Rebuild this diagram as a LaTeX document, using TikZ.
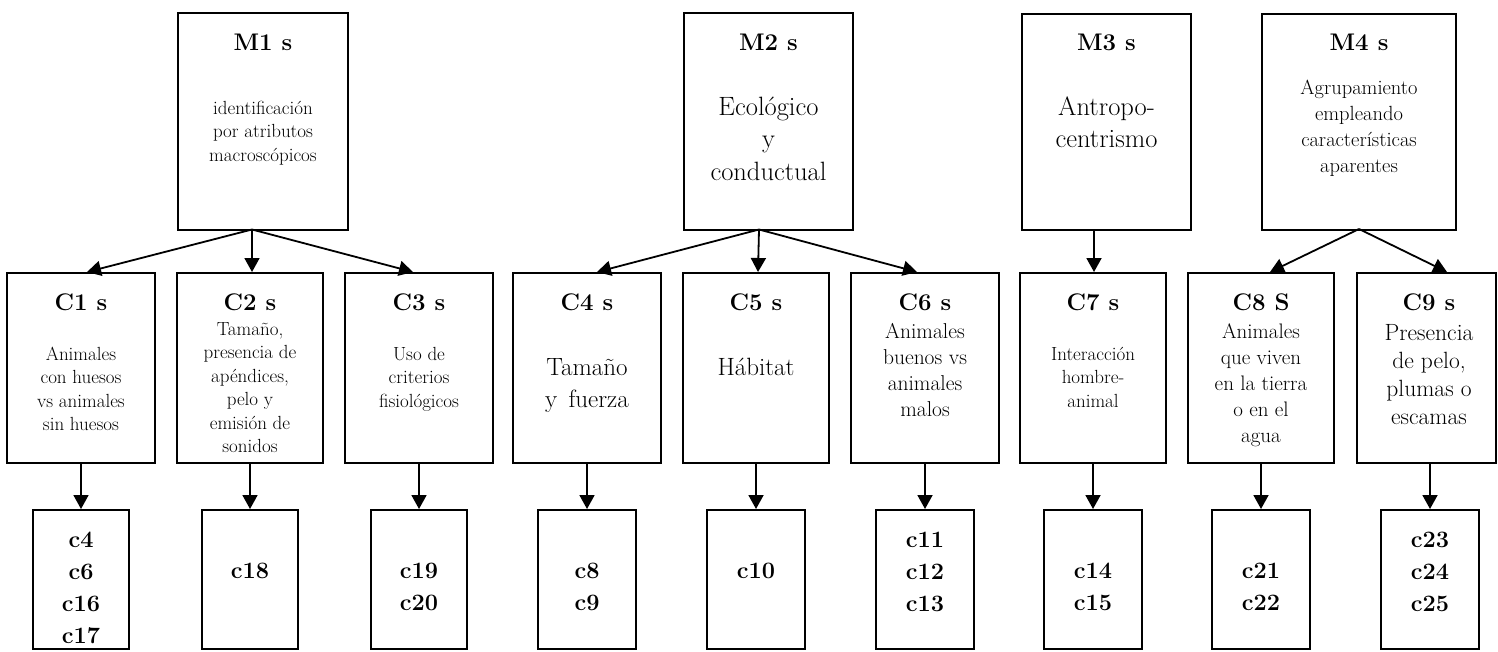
\documentclass[tikz,border=0pt]{standalone}
\usetikzlibrary{arrows.meta,calc}
% strut that fixes the height of the first line of every text block
\newcommand{\lnstrut}{\rule{0pt}{0.75em}}
\begin{document}
\begin{tikzpicture}[x=1pt,y=-1pt,
  box/.style={draw, line width=2pt, rectangle, inner sep=0pt},
  mbox/.style={box, minimum height=217pt},
  cbox/.style={box, minimum height=190pt},
  bbox/.style={box, minimum height=139pt},
  arr/.style={line width=1.8pt, -{Triangle[width=15pt,length=14pt]}},
  ttl/.style={anchor=base, inner sep=0pt, font=\bfseries\fontsize{24}{28}\selectfont},
  txt/.style={anchor=north, inner sep=0pt, align=center},
  num/.style={txt, font=\bfseries\fontsize{23.5}{32}\selectfont}]
\useasboundingbox (0,0) rectangle (1498,651);

% ---- top level
\node[mbox, minimum width=170pt] (M1) at (263,121.5) {};
\node[mbox, minimum width=169pt] (M2) at (768.5,121.5) {};
\node[mbox, minimum width=169pt, minimum height=216pt] (M3) at (1106.5,122) {};
\node[mbox, minimum width=194pt, minimum height=216pt] (M4) at (1359,122) {};

\node[ttl] (M1t) at (263,50) {M1 s};
\node[ttl] (M2t) at (768.5,50) {M2 s};
\node[ttl] (M3t) at (1106.5,50) {M3 s};
\node[ttl] (M4t) at (1359,50) {M4 s};

\node[txt, font=\fontsize{19}{23.5}\selectfont] (M1b) at (263,99.75)
  {\lnstrut identificación\\por atributos\\macroscópicos};
\node[txt, font=\fontsize{26.5}{32.5}\selectfont] (M2b) at (768.5,95.1)
  {\lnstrut Ecológico\\y\\conductual};
\node[txt, font=\fontsize{26.5}{32}\selectfont] (M3b) at (1106.5,95.1)
  {\lnstrut Antropo-\\centrismo};
\node[txt, font=\fontsize{20.5}{26}\selectfont] (M4b) at (1359,78.6)
  {\lnstrut Agrupamiento\\empleando\\características\\aparentes};

% ---- middle level
\node[cbox, minimum width=148pt] (C1) at (81,368) {};
\node[cbox, minimum width=146pt] (C2) at (250,368) {};
\node[cbox, minimum width=148pt] (C3) at (419,368) {};
\node[cbox, minimum width=148pt] (C4) at (587,368) {};
\node[cbox, minimum width=146pt] (C5) at (756,368) {};
\node[cbox, minimum width=148pt] (C6) at (925,368) {};
\node[cbox, minimum width=146pt] (C7) at (1093,368) {};
\node[cbox, minimum width=146pt] (C8) at (1261,368) {};
\node[cbox, minimum width=139pt] (C9) at (1426.5,368) {};

\node[ttl] (C1t) at (81,310) {C1 s};
\node[ttl] (C2t) at (250,310) {C2 s};
\node[ttl] (C3t) at (419,310) {C3 s};
\node[ttl] (C4t) at (587,310) {C4 s};
\node[ttl] (C5t) at (756,310) {C5 s};
\node[ttl] (C6t) at (925,310) {C6 s};
\node[ttl] (C7t) at (1093,310) {C7 s};
\node[ttl] (C8t) at (1261,310) {C8 S};
\node[ttl] (C9t) at (1429,310) {C9 s};

\node[txt, font=\fontsize{19}{23.5}\selectfont] (C1b) at (81,345.75)
  {\lnstrut Animales\\con huesos\\vs animales\\sin huesos};
\node[txt, font=\fontsize{19}{23.5}\selectfont] (C2b) at (250,320.75)
  {\lnstrut Tamaño,\\presencia de\\apéndices,\\pelo y\\emisión de\\sonidos};
\node[txt, font=\fontsize{19}{23.5}\selectfont] (C3b) at (419,345.75)
  {\lnstrut Uso de\\criterios\\fisiológicos};
\node[txt, font=\fontsize{25}{32}\selectfont] (C4b) at (587,356.25)
  {\lnstrut Tamaño\\y\hspace{0.45em}fuerza};
\node[txt, font=\fontsize{25}{32}\selectfont] (C5b) at (756,356.25)
  {\lnstrut Hábitat};
\node[txt, font=\fontsize{21.5}{26}\selectfont] (C6b) at (925,321.9)
  {\lnstrut Animales\\buenos vs\\animales\\malos};
\node[txt, font=\fontsize{19}{23.5}\selectfont] (C7b) at (1093,345.75)
  {\lnstrut Interacción\\hombre-\\animal};
\node[txt, font=\fontsize{21}{26}\selectfont] (C8b) at (1261,322.25)
  {\lnstrut Animales\\que viven\\en la tierra\\o en el\\agua};
\node[txt, font=\fontsize{23.5}{28}\selectfont] (C9b) at (1429,322.4)
  {\lnstrut Presencia\\de pelo,\\plumas o\\escamas};

% ---- bottom level
\node[bbox, minimum width=96pt] (B1) at (81,579.5) {};
\node[bbox, minimum width=96pt] (B2) at (250,579.5) {};
\node[bbox, minimum width=96pt] (B3) at (419,579.5) {};
\node[bbox, minimum width=98pt] (B4) at (587,579.5) {};
\node[bbox, minimum width=98pt] (B5) at (756,579.5) {};
\node[bbox, minimum width=98pt] (B6) at (925,579.5) {};
\node[bbox, minimum width=98pt] (B7) at (1093,579.5) {};
\node[bbox, minimum width=98pt] (B8) at (1261,579.5) {};
\node[bbox, minimum width=98pt] (B9) at (1430,579.5) {};

\node[num] (B1b) at (81,529.75) {\lnstrut c4\\c6\\c16\\c17};
\node[num] (B2b) at (250,560.75) {\lnstrut c18};
\node[num] (B3b) at (419,560.75) {\lnstrut c19\\c20};
\node[num] (B4b) at (587,560.75) {\lnstrut c8\\c9};
\node[num] (B5b) at (756,560.75) {\lnstrut c10};
\node[num] (B6b) at (925,529.75) {\lnstrut c11\\c12\\c13};
\node[num] (B7b) at (1093,560.75) {\lnstrut c14\\c15};
\node[num] (B8b) at (1261,560.75) {\lnstrut c21\\c22};
\node[num] (B9b) at (1430,529.75) {\lnstrut c23\\c24\\c25};

% ---- connectors from the top level
\coordinate (m1o) at (252,229.5);
\coordinate (m2o) at (759,229.5);
\coordinate (m3o) at (1094,230);
\coordinate (m4o) at (1359,229);

\draw[arr] (m1o) -- ($(C1.north)+(6,0)$);
\draw[arr] (m1o) -- ($(C2.north)+(2,0)$);
\draw[arr] (m1o) -- ($(C3.north)+(-6,0)$);
\draw[arr] (m2o) -- ($(C4.north)+(10,0)$);
\draw[arr] (m2o) -- ($(C5.north)+(2,0)$);
\draw[arr] (m2o) -- ($(C6.north)+(-8,0)$);
\draw[arr] (m3o) -- ($(C7.north)+(1,0)$);
\draw[arr] (m4o) -- ($(C8.north)+(9,0)$);
\draw[arr] (m4o) -- ($(C9.north)+(20.5,0)$);

% ---- connectors to the bottom level
\draw[arr] (C1.south) -- (B1.north);
\draw[arr] (C2.south) -- (B2.north);
\draw[arr] (C3.south) -- (B3.north);
\draw[arr] (C4.south) -- (B4.north);
\draw[arr] (C5.south) -- (B5.north);
\draw[arr] (C6.south) -- (B6.north);
\draw[arr] (C7.south) -- (B7.north);
\draw[arr] (C8.south) -- (B8.north);
\draw[arr] (C9.south -| B9.north) -- (B9.north);
\end{tikzpicture}
\end{document}
